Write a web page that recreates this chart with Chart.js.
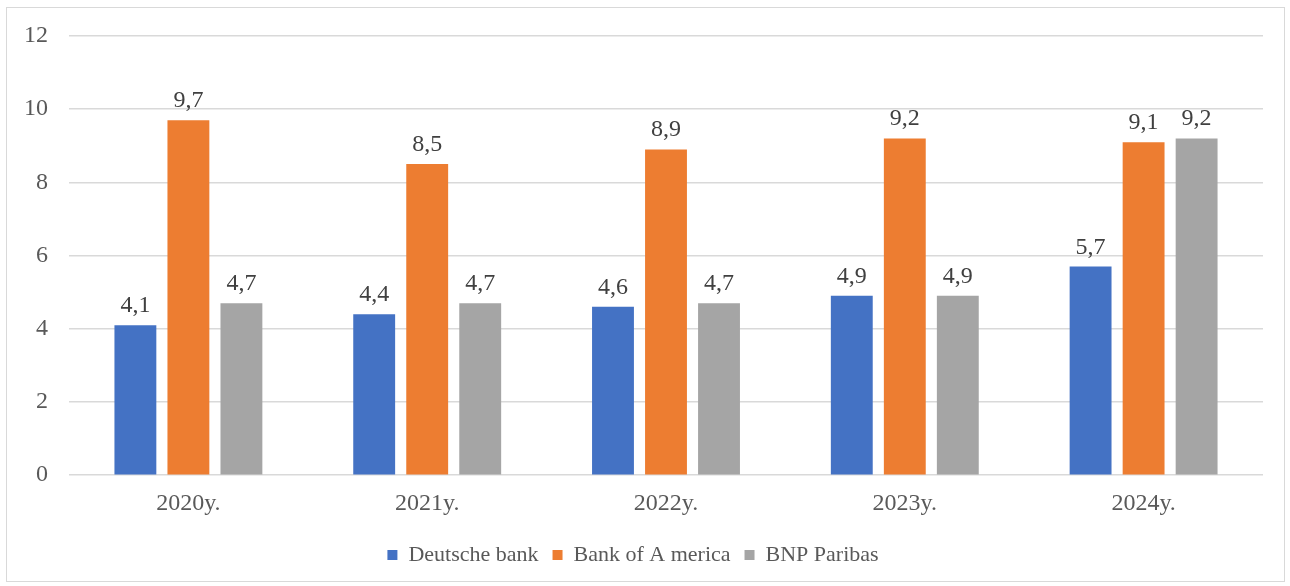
<!DOCTYPE html>
<html lang="en">
<head>
    <meta charset="UTF-8">
    <title>Banks chart</title>
    <script src="https://cdn.jsdelivr.net/npm/chart.js"></script>
    <style>
        body {
            margin: 0;
            background: #ffffff;
        }
        .chart-container {
            position: relative;
            width: 1290px;
            height: 586px;
        }
        .frame {
            position: absolute;
            left: 6px;
            top: 7px;
            width: 1277px;
            height: 573px;
            border: 1px solid #d9d9d9;
            pointer-events: none;
        }
    </style>
</head>
<body>
    <div class="chart-container">
        <canvas id="bankChart" width="1290" height="586"></canvas>
        <div class="frame"></div>
    </div>

    <script>
        // Data
        const years = ['2020y.', '2021y.', '2022y.', '2023y.', '2024y.'];
        const deutscheBank = [4.1, 4.4, 4.6, 4.9, 5.7];
        const bankOfAmerica = [9.7, 8.5, 8.9, 9.2, 9.1];
        const bnpParibas = [4.7, 4.7, 4.7, 4.9, 9.2];

        const serif = "'Liberation Serif', 'Times New Roman', serif";

        // value labels above each bar, comma decimal
        const barLabels = {
            id: 'barLabels',
            afterDatasetsDraw(chart) {
                const c = chart.ctx;
                c.save();
                c.font = "24px 'Liberation Serif', serif";
                c.fillStyle = '#404040';
                c.textAlign = 'center';
                c.textBaseline = 'alphabetic';
                chart.data.datasets.forEach((ds, i) => {
                    chart.getDatasetMeta(i).data.forEach((bar, j) => {
                        const txt = ds.data[j].toFixed(1).replace('.', ',');
                        c.fillText(txt, bar.x, bar.y - 13);
                    });
                });
                c.restore();
            }
        };

        new Chart(document.getElementById('bankChart'), {
            type: 'bar',
            data: {
                labels: years,
                datasets: [
                    { label: 'Deutsche bank', data: deutscheBank, backgroundColor: '#4472c4' },
                    { label: 'Bank of A merica', data: bankOfAmerica, backgroundColor: '#ed7d31' },
                    { label: 'BNP Paribas', data: bnpParibas, backgroundColor: '#a5a5a5' }
                ]
            },
            options: {
                responsive: false,
                animation: false,
                layout: {
                    padding: { left: 3, right: 27, top: 36, bottom: 10 }
                },
                datasets: {
                    bar: { categoryPercentage: 0.666, barPercentage: 0.79 }
                },
                scales: {
                    x: {
                        grid: { display: false },
                        border: { display: false },
                        ticks: { color: '#595959', font: { family: serif, size: 24 }, padding: 6 },
                        afterFit(axis) { axis.height += 6; }
                    },
                    y: {
                        min: 0,
                        max: 12,
                        ticks: { stepSize: 2, color: '#595959', font: { family: serif, size: 24 }, padding: 21 },
                        grid: { color: '#d9d9d9', lineWidth: 1.5, drawTicks: false },
                        border: { display: false }
                    }
                },
                plugins: {
                    legend: {
                        position: 'bottom',
                        labels: {
                            boxWidth: 10,
                            boxHeight: 10,
                            color: '#595959',
                            font: { family: serif, size: 22 },
                            padding: 14
                        }
                    },
                    tooltip: { enabled: false }
                }
            },
            plugins: [barLabels]
        });
    </script>
</body>
</html>
